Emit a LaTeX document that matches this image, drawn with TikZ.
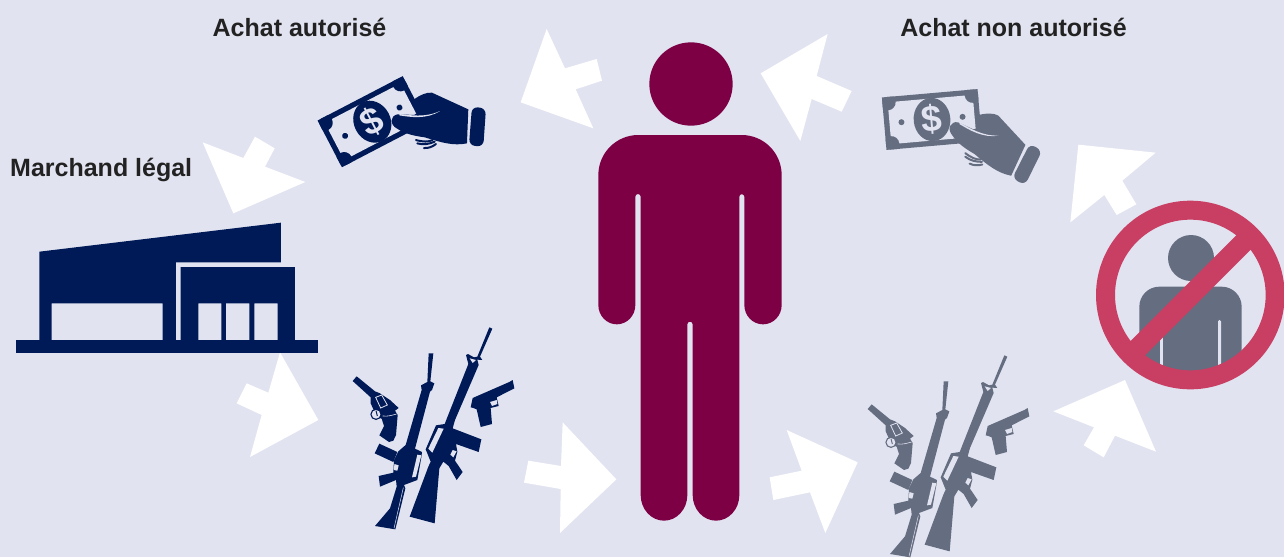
\documentclass[tikz,border=0pt]{standalone}
\usepackage{fontspec}
\setmainfont{Liberation Sans}
\definecolor{bgc}{HTML}{E1E3F0}
\definecolor{navy}{HTML}{001A57}
\definecolor{maroon}{HTML}{7D0045}
\definecolor{slate}{HTML}{656D80}
\definecolor{redc}{HTML}{C93F63}
\definecolor{txt}{HTML}{222222}
\tikzset{
  title/.style={font=\bfseries\fontsize{25}{28}\selectfont,text=txt,inner sep=0pt},
  arrowshape/.style={fill=white,draw=none},
  zoomed/.style={shift={#1},scale=0.33333},
}
% money and hand: origin at the coin centre
\newcommand{\moneyicon}[5]{% name, x, y, whole rotation, colour
 \begin{scope}[shift={(#2,#3)},rotate=#4,scale=0.33333]
  \begin{scope}[rotate=27.5]
   \fill[#5,rounded corners=4] (-144,-79) rectangle (144,79);
   \fill[bgc] (-128,-63) rectangle (128,63);
   \begin{scope}
    \clip (-144,-79) rectangle (144,79);
    \fill[#5] (-128,-63) circle (24) (128,-63) circle (24) (-128,63) circle (24) (128,63) circle (24);
   \end{scope}
   \fill[#5] (0,0) ellipse [x radius=55,y radius=65];
   \fill[#5] (-92,0) circle (9) (92,0) circle (9);
  \end{scope}
  \node[font=\bfseries\fontsize{37}{37}\selectfont,text=bgc,inner sep=0pt,rotate={27.5+(#4)}] (#1) at (0,0) {\$};
  \begin{scope}[shift={(-187,-185)}]
   % hand
   \fill[#5] (312,118) .. controls (330,105) and (350,96) .. (366,98)
     -- (475,148) -- (471,250) .. controls (430,258) and (395,248) .. (345,232)
     .. controls (315,228) and (285,222) .. (262,206)
     .. controls (238,194) and (240,168) .. (262,163)
     -- (322,165) -- cycle;
   % line between thumb and palm
   \fill[bgc] (268,162) .. controls (300,165) and (345,174) .. (390,153)
      .. controls (350,179) and (300,171) .. (268,166) -- cycle;
   % curled fingers
   \draw[#5,line width=2pt,line cap=round] (318,240) .. controls (340,246) and (355,246) .. (368,240);
   \draw[#5,line width=2pt,line cap=round] (322,250) .. controls (340,255) and (358,252) .. (374,245);
   \draw[#5,line width=2pt,line cap=round] (342,264) .. controls (355,265) and (368,260) .. (378,252);
   % cuff
   \fill[#5,rounded corners=6] (486,140) -- (528,145) -- (520,260) -- (477,256) -- cycle;
  \end{scope}
 \end{scope}
}
% group of four weapons, in the coordinates of a 3x crop
\newcommand{\gunsicon}[4]{% name, x, y, colour
 \begin{scope}[zoomed={(#2,#3)}]
  \coordinate (#1) at (280,320);
  % big rifle
  \fill[#4] (448,22) -- (457,26) -- (420,110) -- (427,120) -- (412,119) -- (416,135)
     -- (345,300) -- (338,325) -- (424,358) -- (416,396) -- (348,372)
     -- (352,395) -- (345,422) -- (368,456) -- (350,480) -- (326,438) -- (310,425) -- (298,445)
     -- (284,610) -- (209,590) -- (265,440) -- (272,425) -- (257,388) -- (288,316) -- (314,312)
     -- (385,132) -- (378,105) -- (384,102) -- (402,112) -- (412,110) -- cycle;
  \fill[bgc] (295,324) -- (311,326) -- (277,398) -- (265,386) -- cycle;
  \fill[bgc] (389,115) -- (408,120) -- (398,129) -- cycle;
  \fill[bgc] (338,390) -- (350,394) -- (340,412) -- (331,404) -- cycle;
  % small rifle
  \fill[#4] (266,100) -- (280,100) -- (271,184) -- (283,190) -- (276,210) -- (270,215)
     -- (225,386) -- (246,396) -- (244,412) -- (232,480) -- (192,495) -- (196,505) -- (166,628)
     -- (105,618) -- (150,565) -- (170,500) -- (168,480) -- (120,500) -- (116,468) -- (160,458)
     -- (162,420) -- (175,394) -- (197,375) -- (245,210) -- (243,196) -- (262,186) -- cycle;
  \fill[bgc] (232,404) -- (244,406) -- (228,470) -- (216,472) -- cycle;
  \fill[bgc] (163,432) -- (176,436) -- (172,452) -- (162,450) -- cycle;
  \draw[bgc,line width=0.5pt] (190,503) -- (162,625);
  % magazine
  \fill[#4] (118,371) -- (172,396) -- (160,426) -- (104,400) -- cycle;
  % revolver
  \fill[#4] (38,183) -- (50,169) -- (105,214) -- (120,220) -- (150,240) -- (176,264) -- (165,272)
     -- (173,285) -- (168,345) -- (160,362) -- (147,366) -- (118,346) -- (132,318) -- (125,296)
     -- (110,290) -- (92,250) -- (92,232) -- cycle;
  \fill[#4] (108,283) circle (17);
  \fill[bgc] (108,283) circle (13);
  \draw[#4,line width=1pt] (108,272) -- (112,288);
  \draw[bgc,line width=0.8pt] (107,232) -- (125,225) -- (142,255) -- (122,264) -- cycle;
  \draw[bgc,line width=0.6pt] (128,288) .. controls (145,290) and (158,285) .. (170,282);
  % pistol
  \fill[#4] (398,234) -- (508,186) -- (518,180) -- (523,205) -- (470,232) -- (476,258) -- (452,264) -- (456,312)
     -- (422,321) -- (410,268) -- (400,264) -- (392,262) -- cycle;
  \fill[bgc] (450,246) -- (470,240) -- (472,252) -- (456,258) -- cycle;
 \end{scope}
}
\begin{document}
\begin{tikzpicture}[x=1pt,y=-1pt]
\useasboundingbox (0,0) rectangle (1284,557);
\fill[bgc] (0,0) rectangle (1284,557);

% titles
\node[title,anchor=center] (t1) at (299.5,27) {Achat autorisé};
\node[title,anchor=center] (t2) at (1013.5,27) {Achat non autorisé};
\node[title,anchor=west] (t3) at (10,170) {Marchand légal};

% arrows
\begin{scope}[zoomed={(510,20)}]
 \fill[arrowshape] (110,27) -- (165,145) -- (260,117) -- (276,182) -- (197,208) -- (250,325) -- (32,247) -- cycle;
 \fill[arrowshape] (953,42) -- (920,168) -- (1025,213) -- (995,275) -- (905,237) -- (871,363) -- (752,160) -- cycle;
\end{scope}
\begin{scope}[zoomed={(200,130)}]
 \fill[arrowshape] (8,37) -- (130,84) -- (165,20) -- (224,55) -- (195,110) -- (316,156) -- (100,250) -- cycle;
\end{scope}
\begin{scope}[zoomed={(230,345)}]
 \fill[arrowshape] (150,22) -- (265,225) -- (60,336) -- (95,210) -- (20,175) -- (50,115) -- (115,143) -- cycle;
\end{scope}
\begin{scope}[zoomed={(515,415)}]
 \fill[arrowshape] (143,22) -- (304,193) -- (135,354) -- (137,222) -- (27,203) -- (40,137) -- (138,153) -- cycle;
 \fill[arrowshape] (815,45) -- (1028,142) -- (931,354) -- (885,232) -- (775,255) -- (764,187) -- (860,167) -- cycle;
\end{scope}
\begin{scope}[zoomed={(1045,135)}]
 \fill[arrowshape] (100,29) -- (332,53) -- (232,137) -- (274,208) -- (215,240) -- (178,180) -- (76,262) -- cycle;
\end{scope}
\begin{scope}[zoomed={(1045,370)}]
 \fill[arrowshape] (240,30) -- (333,245) -- (210,197) -- (176,262) -- (116,226) -- (147,172) -- (25,124) -- cycle;
\end{scope}

% central person
\begin{scope}[zoomed={(590,125)}]
 \fill[maroon] (303,-123) circle (125);
 \fill[maroon] (145,30) -- (455,30) arc[start angle=-90,end angle=0,radius=120] -- (575,540)
   arc[start angle=0,end angle=180,x radius=56,y radius=58]
   -- (463,215) arc[start angle=0,end angle=-180,radius=7.5] -- (448,1110)
   arc[start angle=0,end angle=180,x radius=70,y radius=77]
   -- (308,598) arc[start angle=0,end angle=-180,radius=8] -- (292,1110)
   arc[start angle=0,end angle=180,x radius=70,y radius=77]
   -- (152,215) arc[start angle=0,end angle=-180,radius=8] -- (136,540)
   arc[start angle=0,end angle=180,x radius=55.5,y radius=58]
   -- (25,150) arc[start angle=180,end angle=270,radius=120] -- cycle;
\end{scope}

% shop
\begin{scope}[zoomed={(0,210)}]
 \fill[navy] (118,125) -- (843,38) -- (843,157) -- (528,157) -- (528,390) -- (488,390) -- (488,280)
    -- (155,280) -- (155,390) -- (118,390) -- cycle;
 \fill[navy] (48,390) rectangle (955,428);
 \fill[navy] (542,171) -- (885,171) -- (885,390) -- (833,390) -- (833,280) -- (763,280) -- (763,390)
    -- (748,390) -- (748,280) -- (678,280) -- (678,390) -- (664,390) -- (664,280) -- (595,280)
    -- (595,390) -- (542,390) -- cycle;
\end{scope}

% money
\moneyicon{dollarA}{372.3}{121.7}{0}{navy}
\moneyicon{dollarB}{932}{119.5}{-22.5}{slate}

% weapons
\gunsicon{gunsA}{340}{320}{navy}
\gunsicon{gunsB}{855}{348}{slate}

% forbidden person
\begin{scope}[zoomed={(1090,190)}]
 \begin{scope}
  \clip (300,315) circle (240);
  \fill[slate] (303,204) circle (69);
  \fill[slate] (208,290) -- (395,290) arc[start angle=-90,end angle=0,radius=60] -- (455,600) -- (148,600) -- (148,350)
     arc[start angle=180,end angle=270,radius=60] -- cycle;
  \fill[bgc] (211,430) rectangle (219,600);
  \fill[bgc] (384,394) arc[start angle=180,end angle=360,radius=4.5] -- (393,600) -- (384,600) -- cycle;
 \end{scope}
 \fill[redc,even odd rule] (301,315) circle (283) (301,315) circle (226);
 \fill[redc] (115,460) -- (450,125) -- (493,168) -- (158,503) -- cycle;
\end{scope}
\end{tikzpicture}
\end{document}
